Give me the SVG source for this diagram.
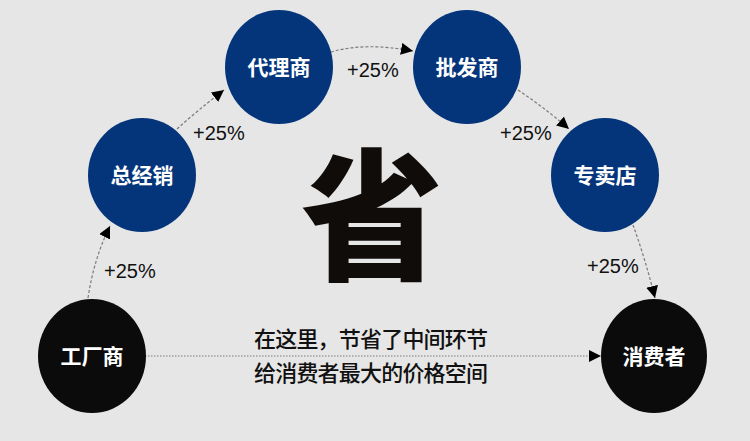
<svg xmlns="http://www.w3.org/2000/svg" width="750" height="441" viewBox="0 0 750 441">
<style>
.bg{fill:#e6e6e6}
.blue{fill:#04357b}
.black{fill:#0b0b0b}
.nt{font-family:"Noto Sans CJK SC","Noto Sans",sans-serif;font-weight:700;font-size:21px;fill:#ffffff;text-anchor:middle}
.pct{font-family:"Liberation Sans","Noto Sans",sans-serif;font-size:20px;fill:#111111}
.con{fill:none;stroke:#7a7a7a;stroke-width:1.2;stroke-dasharray:3 2}
.dot{fill:none;stroke:#7a7a7a;stroke-width:1.2;stroke-dasharray:1.5 1.5}
.big{font-family:"Noto Sans CJK SC",sans-serif;font-weight:900;font-size:142px;fill:#100c0a;text-anchor:middle}
.cap{font-family:"Noto Sans CJK SC",sans-serif;font-weight:500;font-size:22px;fill:#111111}
</style>
<defs>
<marker id="ah" markerUnits="userSpaceOnUse" markerWidth="14" markerHeight="14" refX="12" refY="6" orient="auto">
<path d="M0,0 L12,6 L0,12 Z" fill="#000"/>
</marker>
</defs>
<rect class="bg" x="0" y="0" width="750" height="441"/>

<g id="connectors">
<path class="con" d="M88,298 Q94,258 110,226" marker-end="url(#ah)"/>
<path class="con" d="M177,129 Q198,110 224,90" marker-end="url(#ah)"/>
<path class="con" d="M331,52 Q365,42 413,51" marker-end="url(#ah)"/>
<path class="con" d="M518,90 Q545,108 569,129" marker-end="url(#ah)"/>
<path class="con" d="M633,225 Q645,258 655,298" marker-end="url(#ah)"/>
<path class="dot" d="M145,356 L601,356" marker-end="url(#ah)"/>
<text class="pct" x="104" y="278">+25%</text>
<text class="pct" x="193" y="140">+25%</text>
<text class="pct" x="347" y="77">+25%</text>
<text class="pct" x="500" y="140">+25%</text>
<text class="pct" x="587" y="273">+25%</text>
</g>

<g id="node-gongchangshang">
<ellipse class="black" cx="92" cy="356" rx="54" ry="57"/>
<text class="nt" x="92" y="364">工厂商</text>
</g>
<g id="node-zongjingxiao">
<ellipse class="blue" cx="142" cy="175" rx="54" ry="57"/>
<text class="nt" x="142" y="183">总经销</text>
</g>
<g id="node-dailishang">
<ellipse class="blue" cx="279" cy="67" rx="54" ry="57"/>
<text class="nt" x="279" y="75">代理商</text>
</g>
<g id="node-pifashang">
<ellipse class="blue" cx="467" cy="67" rx="54" ry="57"/>
<text class="nt" x="467" y="75">批发商</text>
</g>
<g id="node-zhuanmaidian">
<ellipse class="blue" cx="605" cy="175" rx="54" ry="57"/>
<text class="nt" x="605" y="183">专卖店</text>
</g>
<g id="node-xiaofeizhe">
<ellipse class="black" cx="654" cy="356" rx="53" ry="57"/>
<text class="nt" x="654" y="364">消费者</text>
</g>

<g id="center-text">
<text class="big" x="372" y="269">省</text>
<text class="cap" x="254" y="347" textLength="234" lengthAdjust="spacing">在这里，节省了中间环节</text>
<text class="cap" x="254" y="381" textLength="234" lengthAdjust="spacing">给消费者最大的价格空间</text>
</g>
</svg>
